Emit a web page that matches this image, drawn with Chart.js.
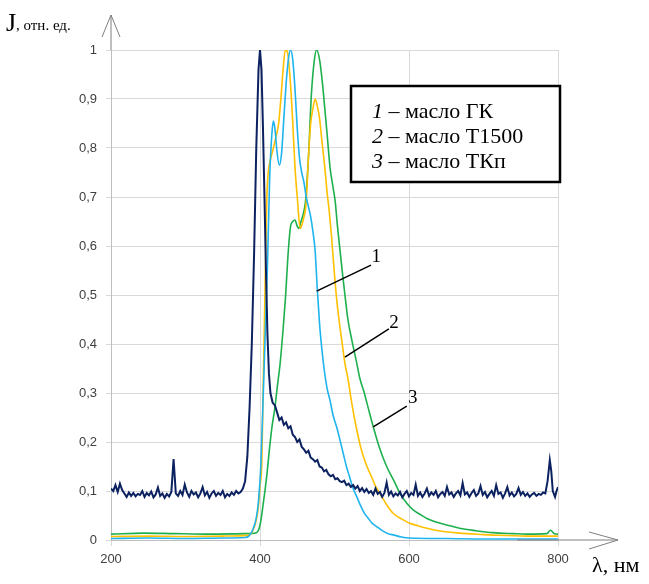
<!DOCTYPE html>
<html>
<head>
<meta charset="utf-8">
<script src="https://cdn.jsdelivr.net/npm/chart.js@4/dist/chart.umd.min.js"></script>
<style>
  html, body { margin: 0; padding: 0; background: #ffffff; }
  #wrap { width: 649px; height: 584px; position: relative; }
</style>
</head>
<body>
<div id="wrap"><canvas id="spectraChart"></canvas></div>
<script>
// wavelength ticks (nm)
const xTicks = [200, 400, 600, 800];

// dark blue, noisy curve
const darkX = [
  200, 203, 206, 209, 212, 215, 218, 221, 224, 227, 230, 233, 236, 239, 242, 245, 248, 251, 254, 257,
  260, 263, 266, 269, 272, 275, 278, 281, 284, 287, 290, 293, 296, 299, 302, 305, 308, 311, 314, 317,
  320, 323, 326, 329, 332, 335, 338, 341, 344, 347, 350, 353, 356, 359, 362, 365, 368, 371, 374,
  377, 380, 383, 386, 389, 392, 395, 398, 400, 402, 404, 406, 408, 410, 412, 414, 417, 420, 423, 426,
  429, 432, 435, 438, 441, 444, 447, 450, 453, 456, 459, 462, 465, 468, 471, 474, 477, 480, 483, 486,
  489, 492, 495, 498, 501, 504, 507, 510, 513, 516, 519, 522, 525, 528, 531, 534, 537, 540, 543, 546,
  549, 552, 555, 558, 561, 564, 567, 570, 573, 576, 579, 582, 585, 588, 591, 594, 597, 600, 603, 606,
  609, 612, 615, 618, 621, 624, 627, 630, 633, 636, 639, 642, 645, 648, 651, 654, 657, 660, 663, 666,
  669, 672, 675, 678, 681, 684, 687, 690, 693, 696, 699, 702, 705, 708, 711, 714, 717, 720, 723, 726,
  729, 732, 735, 738, 741, 744, 747, 750, 753, 756, 759, 762, 765, 768, 771, 774, 777, 780, 783, 786,
  789, 791, 793, 796, 798, 800
];
const darkY = [
  0.105, 0.100, 0.112, 0.098, 0.115, 0.102, 0.095, 0.088, 0.097, 0.090, 0.096, 0.089, 0.094, 0.092, 0.100, 0.088, 0.096, 0.091, 0.099, 0.087,
  0.093, 0.107, 0.090, 0.095, 0.086, 0.094, 0.089, 0.098, 0.165, 0.095, 0.090, 0.100, 0.092, 0.113, 0.097, 0.088, 0.100, 0.093, 0.097, 0.087,
  0.095, 0.108, 0.091, 0.098, 0.086, 0.095, 0.100, 0.090, 0.096, 0.092, 0.100, 0.087, 0.094, 0.090, 0.097, 0.092, 0.100, 0.095, 0.098,
  0.105, 0.120, 0.170, 0.270, 0.400, 0.580, 0.800, 0.960, 1.000, 0.960, 0.840, 0.700, 0.550, 0.420, 0.340, 0.300, 0.280, 0.275, 0.260, 0.245,
  0.250, 0.235, 0.240, 0.228, 0.232, 0.215, 0.210, 0.200, 0.205, 0.190, 0.185, 0.178, 0.182, 0.168, 0.165, 0.160, 0.163, 0.150, 0.148, 0.140,
  0.143, 0.134, 0.130, 0.133, 0.124, 0.126, 0.120, 0.118, 0.121, 0.112, 0.115, 0.108, 0.112, 0.105, 0.110, 0.100, 0.106, 0.098, 0.104, 0.096,
  0.100, 0.092, 0.105, 0.094, 0.098, 0.088, 0.096, 0.117, 0.092, 0.099, 0.089, 0.095, 0.091, 0.098, 0.087, 0.094, 0.100, 0.089, 0.096, 0.092,
  0.113, 0.090, 0.097, 0.088, 0.095, 0.105, 0.090, 0.097, 0.092, 0.100, 0.087, 0.094, 0.098, 0.090, 0.108, 0.093, 0.097, 0.088, 0.095, 0.100,
  0.091, 0.116, 0.093, 0.097, 0.088, 0.096, 0.102, 0.090, 0.095, 0.110, 0.092, 0.098, 0.087, 0.094, 0.100, 0.090, 0.112, 0.094, 0.097, 0.086,
  0.095, 0.108, 0.091, 0.097, 0.089, 0.094, 0.106, 0.092, 0.098, 0.090, 0.095, 0.088, 0.093, 0.096, 0.090, 0.094, 0.092, 0.097, 0.095, 0.120,
  0.163, 0.140, 0.100, 0.088, 0.100, 0.108
];

// 1 - масло ГК (light blue)
const gkX = [
  200, 250, 300, 350, 380, 385, 390, 395, 398, 401, 404, 407, 410, 413, 416, 418, 420, 423, 426, 429,
  432, 435, 438, 441, 444, 447, 450, 453, 456, 459, 462, 465, 468, 471, 474, 477, 480, 483, 486, 490,
  494, 498, 503, 508, 512, 516, 520, 525, 530, 535, 540, 545, 550, 557, 565, 572, 580, 590, 600, 650,
  700, 750, 800
];
const gkY = [
  0.003, 0.004, 0.003, 0.004, 0.005, 0.008, 0.020, 0.045, 0.080, 0.150, 0.280, 0.420, 0.560, 0.740, 0.830, 0.855, 0.840, 0.790, 0.765, 0.790,
  0.860, 0.930, 0.980, 1.000, 0.980, 0.920, 0.840, 0.780, 0.750, 0.730, 0.700, 0.680, 0.660, 0.630, 0.590, 0.510, 0.440, 0.390, 0.350, 0.310,
  0.285, 0.255, 0.230, 0.200, 0.175, 0.150, 0.130, 0.105, 0.088, 0.070, 0.055, 0.045, 0.035, 0.027, 0.018, 0.013, 0.010, 0.006, 0.004, 0.003,
  0.002, 0.002, 0.002
];

// 2 - масло Т1500 (orange)
const t1500X = [
  200, 250, 300, 350, 385, 390, 395, 398, 400, 402.5, 404.5, 406, 409, 411, 414, 418, 421, 425, 428, 431,
  434, 437, 440, 443, 447, 450, 454, 458, 462, 465, 468, 471, 474, 477, 480, 483, 487, 490, 493, 496,
  499, 503, 506, 510, 514, 518, 522, 526, 530, 535, 540, 545, 550, 555, 561, 570, 579, 590, 601, 612,
  624, 640, 668, 700, 713, 758, 800
];
const t1500Y = [
  0.007, 0.008, 0.007, 0.008, 0.010, 0.018, 0.040, 0.070, 0.110, 0.160, 0.330, 0.450, 0.690, 0.750, 0.776, 0.800, 0.820, 0.850, 0.900, 0.960,
  1.000, 0.995, 0.950, 0.880, 0.760, 0.700, 0.636, 0.653, 0.690, 0.780, 0.850, 0.880, 0.900, 0.885, 0.860, 0.816, 0.760, 0.710, 0.670, 0.620,
  0.560, 0.490, 0.450, 0.405, 0.360, 0.330, 0.290, 0.255, 0.224, 0.190, 0.165, 0.145, 0.128, 0.110, 0.095, 0.072, 0.054, 0.043, 0.034, 0.029,
  0.024, 0.019, 0.014, 0.011, 0.010, 0.008, 0.008
];

// 3 - масло ТКп (green)
const tkpX = [
  200, 244, 285, 330, 380, 395, 400, 404, 409, 413, 416, 420, 423, 427, 431, 434, 438, 441, 444, 447,
  450, 452, 455, 458, 461, 465, 469, 473, 476, 480, 484, 487, 490, 494, 498, 501, 504, 507.5, 511, 514,
  518, 523, 530, 534, 540, 546, 552, 560, 570, 580, 588, 597, 606, 615, 624, 640, 655, 668, 690, 713,
  740, 758, 785, 790, 795, 800
];
const tkpY = [
  0.012, 0.014, 0.013, 0.012, 0.013, 0.015, 0.030, 0.070, 0.130, 0.190, 0.230, 0.270, 0.310, 0.360, 0.430, 0.490, 0.590, 0.640, 0.650, 0.653,
  0.640, 0.636, 0.650, 0.665, 0.690, 0.780, 0.910, 0.980, 1.000, 0.980, 0.930, 0.880, 0.830, 0.760, 0.720, 0.690, 0.640, 0.590, 0.540, 0.500,
  0.450, 0.410, 0.360, 0.330, 0.300, 0.265, 0.231, 0.190, 0.150, 0.120, 0.095, 0.075, 0.061, 0.052, 0.044, 0.035, 0.029, 0.024, 0.019, 0.015,
  0.013, 0.012, 0.013, 0.020, 0.013, 0.012
];

const legendLines = [
  { num: '1', text: ' – масло ГК' },
  { num: '2', text: ' – масло Т1500' },
  { num: '3', text: ' – масло ТКп' }
];

// callout lines: from point on curve to label (data units)
const callouts = [
  { label: '1', from: [476, 0.508], to: [549, 0.561], text: [556, 0.578] },
  { label: '2', from: [514, 0.373], to: [573, 0.431], text: [580, 0.443] },
  { label: '3', from: [552, 0.231], to: [597, 0.273], text: [605, 0.290] }
];

function pairs(xs, ys) {
  return xs.map((x, i) => ({ x: x, y: ys[i] }));
}

const decorPlugin = {
  id: 'decor',
  afterDraw(chart) {
    const ctx = chart.ctx;
    const xs = chart.scales.x;
    const ys = chart.scales.y;
    const left = chart.chartArea.left;
    const bottom = chart.chartArea.bottom;
    const top = chart.chartArea.top;
    const right = chart.chartArea.right;

    ctx.save();
    // y axis arrow
    ctx.strokeStyle = '#7f7f7f';
    ctx.lineWidth = 1;
    ctx.beginPath();
    ctx.moveTo(left, top);
    ctx.lineTo(left, 15);
    ctx.moveTo(left - 9, 37);
    ctx.lineTo(left, 15);
    ctx.lineTo(left + 9, 37);
    ctx.stroke();

    // x axis arrow
    ctx.beginPath();
    ctx.moveTo(right - 41, bottom);
    ctx.lineTo(618, bottom);
    ctx.moveTo(589, bottom - 8);
    ctx.lineTo(618, bottom);
    ctx.lineTo(589, bottom + 9);
    ctx.stroke();

    // axis titles
    ctx.fillStyle = '#000000';
    ctx.textBaseline = 'alphabetic';
    ctx.textAlign = 'left';
    ctx.font = '26px "Liberation Serif"';
    ctx.fillText('J', 6, 31);
    ctx.font = '15px "Liberation Serif"';
    ctx.fillText(', отн. ед.', 16, 30);
    ctx.font = '22px "Liberation Serif"';
    ctx.fillText('λ, нм', 592, 572);

    // legend box
    ctx.lineWidth = 2.5;
    ctx.strokeStyle = '#000000';
    ctx.fillStyle = '#ffffff';
    ctx.fillRect(351, 86, 209, 96);
    ctx.strokeRect(351, 86, 209, 96);
    ctx.fillStyle = '#000000';
    legendLines.forEach((l, i) => {
      const y = 118 + i * 25;
      ctx.font = 'italic 22px "Liberation Serif"';
      ctx.fillText(l.num, 372, y);
      const w = ctx.measureText(l.num).width;
      ctx.font = '22px "Liberation Serif"';
      ctx.fillText(l.text, 372 + w, y);
    });

    // callouts
    ctx.lineWidth = 1.5;
    ctx.font = '19px "Liberation Serif"';
    ctx.textAlign = 'center';
    ctx.textBaseline = 'middle';
    callouts.forEach(c => {
      ctx.beginPath();
      ctx.moveTo(xs.getPixelForValue(c.from[0]), ys.getPixelForValue(c.from[1]));
      ctx.lineTo(xs.getPixelForValue(c.to[0]), ys.getPixelForValue(c.to[1]));
      ctx.stroke();
      ctx.fillText(c.label, xs.getPixelForValue(c.text[0]), ys.getPixelForValue(c.text[1]));
    });
    ctx.restore();
  }
};

const ctx = document.getElementById('spectraChart').getContext('2d');
new Chart(ctx, {
  type: 'line',
  data: {
    datasets: [
      {
        label: 'dark',
        data: pairs(darkX, darkY),
        borderColor: '#0c2260',
        borderWidth: 2,
        pointRadius: 0,
        tension: 0
      },
      {
        label: '1 – масло ГК',
        data: pairs(gkX, gkY),
        borderColor: '#1fb4ee',
        borderWidth: 1.6,
        pointRadius: 0,
        cubicInterpolationMode: 'monotone'
      },
      {
        label: '2 – масло Т1500',
        data: pairs(t1500X, t1500Y),
        borderColor: '#ffc000',
        borderWidth: 1.6,
        pointRadius: 0,
        cubicInterpolationMode: 'monotone'
      },
      {
        label: '3 – масло ТКп',
        data: pairs(tkpX, tkpY),
        borderColor: '#1fb04e',
        borderWidth: 1.6,
        pointRadius: 0,
        cubicInterpolationMode: 'monotone'
      }
    ]
  },
  options: {
    responsive: true,
    maintainAspectRatio: false,
    animation: false,
    layout: { padding: { top: 50, right: 91, left: 0, bottom: 0 } },
    plugins: {
      legend: { display: false },
      tooltip: { enabled: false }
    },
    scales: {
      x: {
        type: 'linear',
        min: 200,
        max: 800,
        afterFit: scale => { scale.height = 44; },
        afterBuildTicks: scale => { scale.ticks = xTicks.map(v => ({ value: v })); },
        ticks: {
          color: '#404040',
          font: { family: '"Liberation Sans"', size: 13 },
          padding: 6,
          maxRotation: 0
        },
        grid: { color: '#d9d9d9', tickLength: 6 },
        border: { color: '#bfbfbf' }
      },
      y: {
        min: 0,
        max: 1,
        afterFit: scale => { scale.width = 111; },
        ticks: {
          stepSize: 0.1,
          color: '#404040',
          font: { family: '"Liberation Sans"', size: 13 },
          padding: 9,
          callback: v => (v === 0 || v === 1) ? String(v) : v.toFixed(1).replace('.', ',')
        },
        grid: { color: '#d9d9d9', tickLength: 5 },
        border: { color: '#bfbfbf' }
      }
    }
  },
  plugins: [decorPlugin]
});
</script>
</body>
</html>
